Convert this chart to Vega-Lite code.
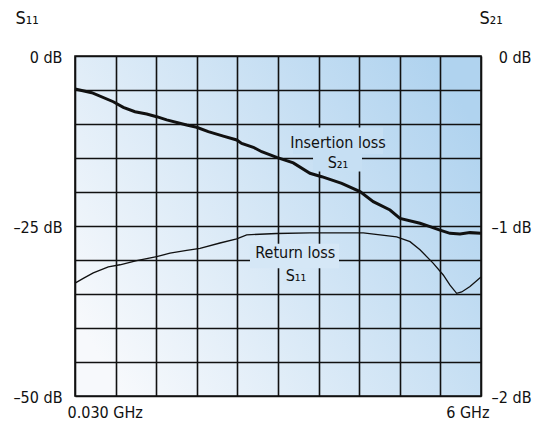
{
  "$schema": "https://vega.github.io/schema/vega-lite/v6.json",
  "width": 406,
  "height": 340,
  "autosize": {"type": "none"},
  "padding": {"left": 75, "top": 56, "right": 61, "bottom": 32},
  "background": "white",
  "config": {
    "font": "'Liberation Sans Narrow', 'DejaVu Sans Condensed', 'Roboto Condensed', Roboto, sans-serif",
    "view": {
      "fill": {"gradient": "linear", "x1": 0, "y1": 0.77, "x2": 1, "y2": 0.23,
        "stops": [{"offset": 0, "color": "#f7f9fc"}, {"offset": 1, "color": "#b0d3ef"}]},
      "stroke": "#111",
      "strokeWidth": 1.6
    },
    "axis": {
      "labelFont": "'Liberation Sans Narrow', 'DejaVu Sans Condensed', 'Roboto Condensed', Roboto, sans-serif",
      "labelFontSize": 16,
      "labelColor": "#111",
      "titleFont": "'Liberation Sans Narrow', 'DejaVu Sans Condensed', 'Roboto Condensed', Roboto, sans-serif",
      "titleFontSize": 18,
      "titleFontWeight": "normal",
      "titleColor": "#111",
      "domain": false,
      "ticks": false,
      "gridColor": "#111",
      "gridWidth": 1.6,
      "gridOpacity": 1
    }
  },
  "datasets": {
    "curves": [
      {"param": "S21", "f": 0.030, "db": -0.194},
      {"param": "S21", "f": 0.276, "db": -0.216},
      {"param": "S21", "f": 0.593, "db": -0.269},
      {"param": "S21", "f": 0.740, "db": -0.302},
      {"param": "S21", "f": 0.912, "db": -0.328},
      {"param": "S21", "f": 1.084, "db": -0.341},
      {"param": "S21", "f": 1.231, "db": -0.357},
      {"param": "S21", "f": 1.378, "db": -0.376},
      {"param": "S21", "f": 1.672, "db": -0.406},
      {"param": "S21", "f": 1.819, "db": -0.419},
      {"param": "S21", "f": 1.990, "db": -0.445},
      {"param": "S21", "f": 2.211, "db": -0.471},
      {"param": "S21", "f": 2.408, "db": -0.494},
      {"param": "S21", "f": 2.481, "db": -0.514},
      {"param": "S21", "f": 2.652, "db": -0.537},
      {"param": "S21", "f": 2.775, "db": -0.563},
      {"param": "S21", "f": 2.996, "db": -0.596},
      {"param": "S21", "f": 3.240, "db": -0.629},
      {"param": "S21", "f": 3.485, "db": -0.690},
      {"param": "S21", "f": 3.658, "db": -0.710},
      {"param": "S21", "f": 3.952, "db": -0.749},
      {"param": "S21", "f": 4.221, "db": -0.798},
      {"param": "S21", "f": 4.416, "db": -0.857},
      {"param": "S21", "f": 4.662, "db": -0.906},
      {"param": "S21", "f": 4.809, "db": -0.955},
      {"param": "S21", "f": 5.103, "db": -0.984},
      {"param": "S21", "f": 5.250, "db": -1.004},
      {"param": "S21", "f": 5.397, "db": -1.024},
      {"param": "S21", "f": 5.544, "db": -1.043},
      {"param": "S21", "f": 5.691, "db": -1.047},
      {"param": "S21", "f": 5.838, "db": -1.039},
      {"param": "S21", "f": 6.000, "db": -1.043},
      {"param": "S11", "f": 0.030, "db": -33.4},
      {"param": "S11", "f": 0.152, "db": -32.7},
      {"param": "S11", "f": 0.299, "db": -31.9},
      {"param": "S11", "f": 0.520, "db": -31.0},
      {"param": "S11", "f": 0.692, "db": -30.7},
      {"param": "S11", "f": 0.937, "db": -30.1},
      {"param": "S11", "f": 1.231, "db": -29.5},
      {"param": "S11", "f": 1.427, "db": -29.0},
      {"param": "S11", "f": 1.672, "db": -28.6},
      {"param": "S11", "f": 1.868, "db": -28.3},
      {"param": "S11", "f": 2.162, "db": -27.5},
      {"param": "S11", "f": 2.408, "db": -26.9},
      {"param": "S11", "f": 2.555, "db": -26.3},
      {"param": "S11", "f": 2.996, "db": -26.1},
      {"param": "S11", "f": 3.485, "db": -26.0},
      {"param": "S11", "f": 4.269, "db": -26.0},
      {"param": "S11", "f": 4.760, "db": -26.6},
      {"param": "S11", "f": 4.956, "db": -27.3},
      {"param": "S11", "f": 5.103, "db": -28.5},
      {"param": "S11", "f": 5.299, "db": -30.5},
      {"param": "S11", "f": 5.445, "db": -32.2},
      {"param": "S11", "f": 5.544, "db": -33.7},
      {"param": "S11", "f": 5.642, "db": -34.9},
      {"param": "S11", "f": 5.716, "db": -34.7},
      {"param": "S11", "f": 5.838, "db": -33.9},
      {"param": "S11", "f": 6.000, "db": -32.5}
    ],
    "labels": [
      {"text": "Insertion loss", "f": 3.897, "db": -12.8},
      {"text": "S₂₁", "f": 3.897, "db": -15.7},
      {"text": "Return loss", "f": 3.27, "db": -29.0},
      {"text": "S₁₁", "f": 3.28, "db": -32.3}
    ],
    "boxes": [
      {"box": "insertion", "f": 3.235, "f2": 4.559, "db": -10.5, "db2": -14.4},
      {"box": "insertion", "f": 3.53, "f2": 4.25, "db": -14.4, "db2": -17.0},
      {"box": "return", "f": 2.603, "f2": 3.912, "db": -27.6, "db2": -31.2},
      {"box": "return", "f": 3.09, "f2": 3.49, "db": -31.2, "db2": -33.6}
    ]
  },
  "encoding": {
    "x": {"field": "f", "type": "quantitative",
      "scale": {"domain": [0.03, 6], "nice": false, "zero": false},
      "axis": {"values": [0.03, 0.627, 1.224, 1.821, 2.418, 3.015, 3.612, 4.209, 4.806, 5.403, 6.0],
        "labelExpr": "datum.value < 0.1 ? '0.030 GHz' : (datum.value > 5.9 ? '6 GHz' : '')",
        "labelFlush": true, "labelFlushOffset": 8, "labelPadding": 8, "title": null, "grid": true}}
  },
  "layer": [
    {
      "encoding": {
        "y": {"field": "db", "type": "quantitative",
          "scale": {"domain": [-50, 0], "nice": false},
          "axis": {"orient": "left", "values": [0, -5, -10, -15, -20, -25, -30, -35, -40, -45, -50],
            "labelExpr": "datum.value == 0 ? '0 dB' : (datum.value == -25 ? '–25 dB' : (datum.value == -50 ? '–50 dB' : ''))",
            "labelPadding": 13, "labelOffset": 1.5, "grid": true,
            "title": "S₁₁", "titleAngle": 0, "titleAlign": "left", "titleBaseline": "alphabetic",
            "titleX": -60, "titleY": -33}}
      },
      "layer": [
        {
          "data": {"name": "boxes"},
          "mark": {"type": "rect"},
          "encoding": {
            "x2": {"field": "f2"},
            "y2": {"field": "db2"},
            "color": {"field": "box", "type": "nominal",
              "scale": {"domain": ["insertion", "return"], "range": ["#c6dff3", "#d5e7f6"]}, "legend": null}
          }
        },
        {
          "data": {"name": "curves"},
          "transform": [{"filter": "datum.param == 'S11'"}],
          "mark": {"type": "line", "color": "#111", "strokeWidth": 1.3},
          "encoding": {}
        },
        {
          "data": {"name": "labels"},
          "mark": {"type": "text", "fontSize": 16, "color": "#111", "align": "center", "baseline": "middle"},
          "encoding": {
            "text": {"field": "text"}
          }
        }
      ]
    },
    {
      "data": {"name": "curves"},
      "transform": [{"filter": "datum.param == 'S21'"}],
      "mark": {"type": "line", "color": "#111", "strokeWidth": 3},
      "encoding": {
        "y": {"field": "db", "type": "quantitative",
          "scale": {"domain": [-2, 0], "nice": false},
          "axis": {"orient": "right", "values": [0, -1, -2],
            "labelExpr": "datum.value == 0 ? '0 dB' : (datum.value == -1 ? '–1 dB' : '–2 dB')",
            "labelAlign": "right", "labelPadding": 50, "labelOffset": 1.5, "grid": false,
            "title": "S₂₁", "titleAngle": 0, "titleAlign": "left", "titleBaseline": "alphabetic",
            "titleX": -2, "titleY": -33}}
      }
    }
  ],
  "resolve": {"scale": {"y": "independent"}}
}
